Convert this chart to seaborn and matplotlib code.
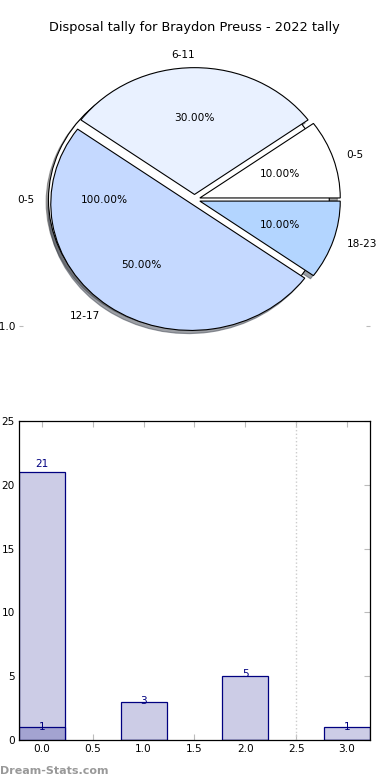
# Disposal tally chart - pie of ranges plus bar chart of counts
import numpy as np
import pandas as pd
import matplotlib
matplotlib.use("Agg")
import matplotlib.pyplot as plt
import seaborn as sns

# pie data
range_labels = ["0-5", "6-11", "12-17", "18-23"]
range_counts = [1, 3, 5, 1]
range_colors = ["#ffffff", "#e9f1ff", "#c5d9ff", "#b3d5ff"]
bg_labels = ["0-5"]
bg_counts = [1]

# bar data
bar_positions = [0, 1, 2, 3]
bar_values = [21, 3, 5, 1]
overlay_values = [1, 0, 0, 0]

sns.set_style("white")
plt.rcParams["font.family"] = ["DejaVu Sans"]
plt.rcParams["text.color"] = "black"
plt.rcParams["xtick.labelcolor"] = "black"
plt.rcParams["ytick.labelcolor"] = "black"

fig = plt.figure(figsize=(3.9, 7.8), dpi=100)

# ---- pie ----
ax1 = fig.add_axes([0.0487, 0.541, 0.9, 0.4064])
ax1.pie(bg_counts, labels=bg_labels, colors=["white"], explode=[0.04],
        autopct="%1.2f%%", shadow={"ox": -0.012, "oy": -0.015},
        wedgeprops=dict(edgecolor="black", linewidth=0.8),
        textprops=dict(fontsize=7.6, color="black"))
ax1.pie(range_counts, labels=range_labels, colors=range_colors,
        explode=[0.04] * len(range_counts), autopct="%1.2f%%",
        shadow={"ox": -0.015, "oy": -0.018},
        wedgeprops=dict(edgecolor="black", linewidth=0.8),
        textprops=dict(fontsize=7.6, color="black"))
ax1.set_aspect("auto")
ax1.set_xlim(-1.25, 1.25)
ax1.set_ylim(-1.25, 1.25)
ax1.set_yticks([-1.0])
ax1.set_yticklabels(["-1.0"])
ax1.tick_params(axis="y", left=True, right=True, direction="in", length=3,
                color="#bbbbbb", labelsize=7.6, pad=2)
ax1.set_title("Disposal tally for Braydon Preuss - 2022 tally", fontsize=9.3,
              pad=7, color="black")

# ---- bars ----
ax2 = fig.add_axes([0.0487, 0.0513, 0.9, 0.409])
sns.barplot(x=bar_positions, y=bar_values, native_scale=True, width=0.45,
            color="#ccccE6", edgecolor="#000080", linewidth=0.9,
            errorbar=None, saturation=1, ax=ax2)
sns.barplot(x=bar_positions, y=overlay_values, native_scale=True, width=0.45,
            color="#a3a3d1", edgecolor="#000080", linewidth=0.9,
            errorbar=None, saturation=1, ax=ax2)

for x, v in zip(bar_positions, bar_values):
    ax2.text(x, v * 1.03, str(v), ha="center", va="center",
             color="#000080", fontsize=7.6)
for x, v in zip(bar_positions, overlay_values):
    if v > 0:
        ax2.text(x, v * 1.03, str(v), ha="center", va="center",
                 color="#000080", fontsize=7.6)

ax2.axvline(2.5, color="#cccccc", linestyle=":", linewidth=1)
ax2.set_xlim(-0.225, 3.225)
ax2.set_ylim(0, 25)
ax2.set_xticks(np.arange(0, 3.01, 0.5))
ax2.set_xticklabels([f"{t:.1f}" for t in np.arange(0, 3.01, 0.5)])
ax2.set_yticks(range(0, 26, 5))
ax2.set_xlabel("")
ax2.set_ylabel("")
ax2.tick_params(axis="both", direction="in", length=4, color="#bbbbbb",
                top=True, right=True, bottom=True, left=True, labelsize=7.6,
                pad=3, labelcolor="black")
for s in ax2.spines.values():
    s.set_color("black")
    s.set_linewidth(0.9)

fig.text(0.0, 0.012, "Dream-Stats.com", color="#999999", fontsize=8,
         fontweight="bold", ha="left", va="center")

fig.savefig("out.png", dpi=100)
